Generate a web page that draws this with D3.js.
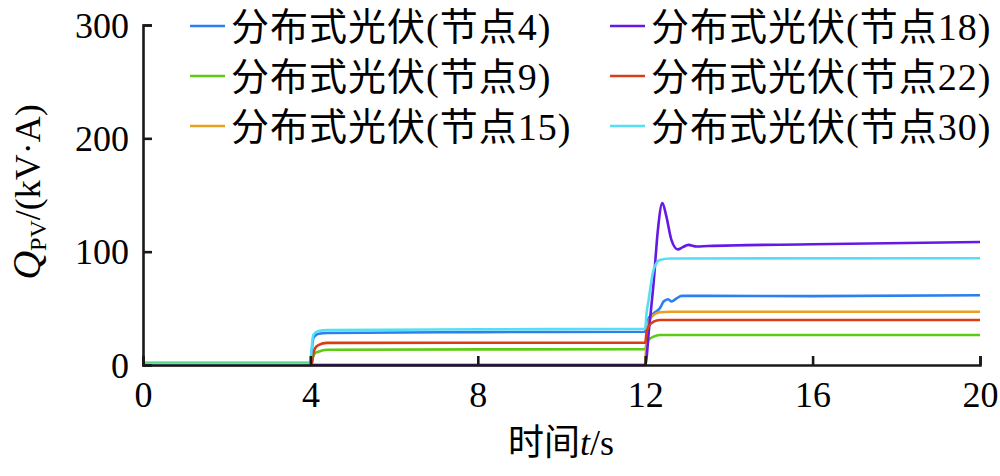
<!DOCTYPE html>
<html>
<head>
<meta charset="utf-8">
<script src="https://cdn.jsdelivr.net/npm/d3@7"></script>
<style>
  html, body { margin: 0; padding: 0; background: #fff; }
  svg { display: block; }
  text { font-family: "Liberation Serif", "Noto Sans CJK SC", serif; fill: #000; }
</style>
</head>
<body>
<svg id="chart" width="1000" height="476"></svg>
<script>
// ---- data ----
const xTicks = [0, 4, 8, 12, 16, 20];
const yTicks = [0, 100, 200, 300];
const seriesNames = ["分布式光伏(节点4)", "分布式光伏(节点9)", "分布式光伏(节点15)",
                     "分布式光伏(节点18)", "分布式光伏(节点22)", "分布式光伏(节点30)"];
const seriesColors = ["#2b7ff0", "#5ccc12", "#e8a020", "#6419e6", "#dc3c14", "#55dff2"];

const node4 = [[0,1],[4,1],[4.02,8],[4.07,23.5],[4.12,26],[4.2,27.5],[4.4,28.3],[8,29],[12,29.4],
  [12.03,36],[12.08,41],[12.2,45.5],[12.35,50],[12.44,56],[12.55,58],[12.63,56],[12.75,58.8],
  [12.87,61],[13.5,61],[16,60.8],[20,61.6]];
const node9 = [[0,2],[4.02,2],[4.06,7],[4.11,10.3],[4.19,11.7],[4.4,13.5],[12,14],
  [12.03,18],[12.08,22],[12.2,25],[12.35,26.5],[20,26.5]];
const node15 = [[0,0],[12,0],[12.03,22],[12.08,38],[12.2,44],[12.35,46.5],[12.6,47],[20,47]];
const node18 = [[0,0],[12,0],[12.1,35],[12.2,72],[12.3,118],[12.41,143],[12.5,132],[12.63,110],
  [12.78,102],[12.9,104],[13.03,106],[13.23,104.5],[13.5,105],[16,106.5],[20,108.5]];
const node22 = [[0,0],[4.03,0],[4.07,10],[4.11,14.7],[4.19,17.6],[4.4,19.5],[12,19.7],
  [12.03,28],[12.08,33.8],[12.2,38.2],[12.35,39.7],[20,39.7]];
const node30 = [[0,1],[4,1],[4.03,15],[4.07,26.5],[4.19,30],[4.4,30.8],[8,31.5],[12,32],
  [12.03,45],[12.08,57],[12.2,84],[12.35,92.7],[12.6,94],[20,94.2]];
const seriesData = [node4, node9, node15, node18, node22, node30];

// ---- layout ----
const svg = d3.select("#chart");
const x = d3.scaleLinear().domain([0, 20]).range([143, 980]);
const y = d3.scaleLinear().domain([0, 300]).range([365, 25]);

const line = d3.line().x(d => x(d[0])).y(d => y(d[1])).curve(d3.curveMonotoneX);

// lines
svg.append("g").selectAll("path").data(seriesData).join("path")
  .attr("d", d => line(d))
  .attr("fill", "none")
  .attr("stroke", (d, i) => seriesColors[i])
  .attr("stroke-width", 2.6)
  .attr("stroke-linejoin", "round");

// axes
const xAxis = svg.append("g").attr("transform", "translate(0,365)")
  .call(d3.axisBottom(x).tickValues(xTicks).tickSize(-9).tickPadding(16).tickFormat(d3.format("d")));
const yAxis = svg.append("g").attr("transform", "translate(143,0)")
  .call(d3.axisLeft(y).tickValues(yTicks).tickSize(-9).tickPadding(14).tickFormat(d3.format("d")));
[xAxis, yAxis].forEach(g => {
  g.select(".domain").attr("stroke", "#1a1a1a").attr("stroke-width", 2.6);
  g.selectAll(".tick line").attr("stroke", "#1a1a1a").attr("stroke-width", 2.6);
  g.selectAll(".tick text").attr("font-family", "Liberation Serif").attr("font-size", 36).attr("fill", "#000");
});
xAxis.selectAll(".tick text").attr("dy", "0.71em");
yAxis.selectAll(".tick text").attr("dy", "0.34em");

// legend
const legend = svg.append("g");
seriesNames.forEach((name, i) => {
  const col = Math.floor(i / 3), row = i % 3;
  const lx = col === 0 ? 190 : 610;
  const ly = 26 + row * 50;
  legend.append("line").attr("x1", lx).attr("x2", lx + 35).attr("y1", ly).attr("y2", ly)
    .attr("stroke", seriesColors[i]).attr("stroke-width", 2.6);
  legend.append("text").attr("x", lx + 41).attr("y", ly).attr("dy", "0.36em")
    .attr("font-size", 38).attr("letter-spacing", 1).text(name);
});

// x label
const xl = svg.append("text").attr("x", 561).attr("y", 455).attr("text-anchor", "middle").attr("font-size", 36);
xl.append("tspan").text("时间");
xl.append("tspan").attr("font-style", "italic").text("t");
xl.append("tspan").text("/s");

// y label
const yl = svg.append("text").attr("transform", "translate(40,192) rotate(-90)")
  .attr("text-anchor", "middle").attr("font-size", 36);
yl.append("tspan").attr("font-style", "italic").attr("font-size", 40).text("Q");
yl.append("tspan").attr("font-size", 24).attr("dy", 6).text("PV");
yl.append("tspan").attr("dy", -6).text("/(kV·A)");
</script>
</body>
</html>
